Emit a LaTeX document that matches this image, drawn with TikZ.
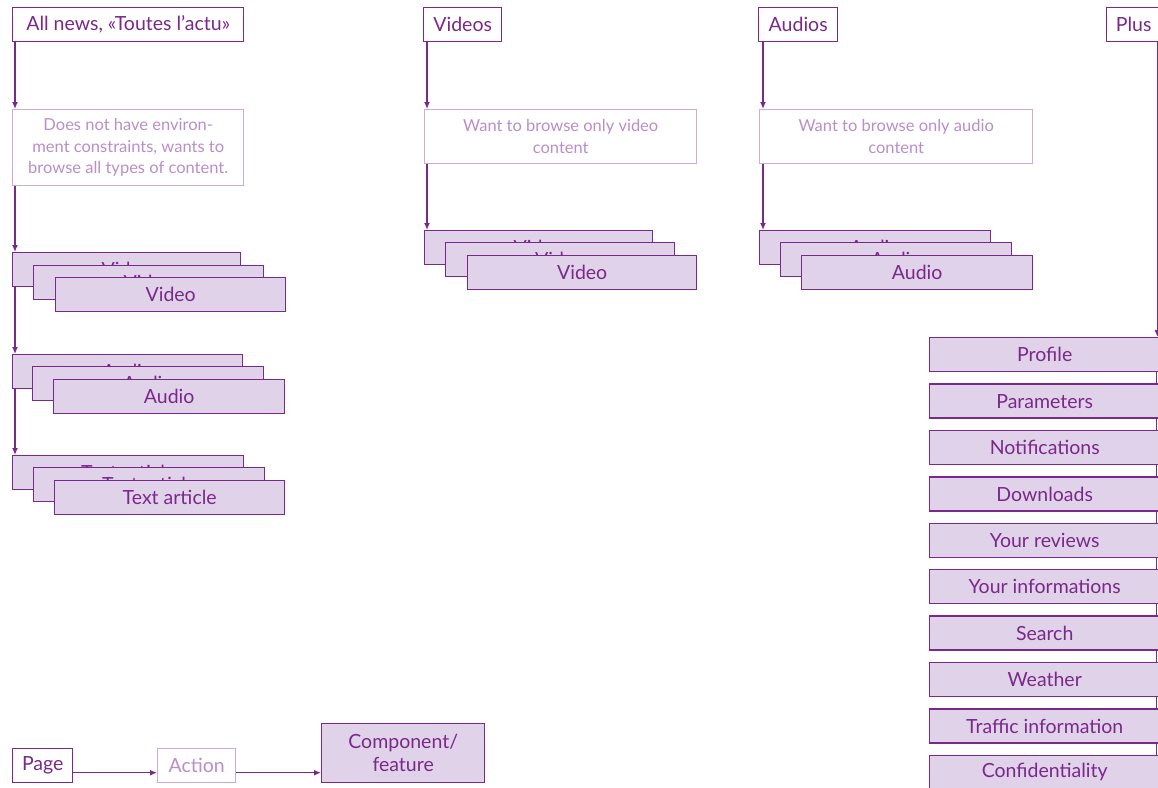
\documentclass[tikz,border=0pt]{standalone}
\usepackage{fontspec}
\setmainfont{Lato}
\usetikzlibrary{positioning}
\usetikzlibrary{arrows.meta}
\usetikzlibrary{calc}
\definecolor{figMorado}{RGB}{122,40,138}
\definecolor{figLavanda}{RGB}{224,210,232}
\definecolor{figLila}{RGB}{204,170,218}
\definecolor{figLilaTexto}{RGB}{186,142,200}
\tikzset{
  pagina/.style={
    rectangle, draw=figMorado, line width=1.4pt, fill=white,
    text=figMorado, minimum height=34, inner sep=0pt,
    font=\fontsize{19.5}{23}\selectfont, anchor=north west
  },
  accion/.style={
    rectangle, draw=figLila, line width=1.4pt, fill=white,
    text=figLilaTexto, minimum height=54, inner sep=0pt, align=center,
    font=\fontsize{16.5}{21.5}\selectfont, anchor=north west
  },
  funcion/.style={
    rectangle, draw=figMorado, line width=1.4pt, fill=figLavanda,
    text=figMorado, minimum height=34, minimum width=230, inner sep=0pt,
    align=center, font=\fontsize{19.5}{23}\selectfont, anchor=north west
  },
  flecha/.style={-{Latex[length=7pt,width=6pt]}, line width=1.4pt, draw=figMorado},
  linea/.style={line width=1.4pt, draw=figMorado}
}
\begin{document}
\begin{tikzpicture}[x=1pt, y=-1pt]
  \useasboundingbox (0,0) rectangle (1158,787);

  % Columna 1: all news
  \node[pagina, minimum width=231] (todo) at (12,7) {All news, «Toutes l’actu»};
  \node[accion, minimum width=231, minimum height=76] (tododesc) at (12,109)
        {Does not have environ-\\ment constraints, wants to\\browse all types of content.};
  \node[funcion, minimum width=228] (tvid1) at (12,252) {Video};
  \node[funcion] (tvid2) at (33,265) {Video};
  \node[funcion] (tvid3) at (55,277) {Video};
  \node[funcion] (taud1) at (12,354) {Audio};
  \node[funcion, minimum width=231] (taud2) at (32,366) {Audio};
  \node[funcion, minimum width=231] (taud3) at (53,379) {Audio};
  \node[funcion, minimum width=231] (ttxt1) at (12,455) {Text article};
  \node[funcion, minimum width=231] (ttxt2) at (33,467) {Text article};
  \node[funcion] (ttxt3) at (54,480) {Text article};

  \draw[flecha] ([xshift=3]todo.south west) -- ([xshift=3]todo.south west |- tododesc.north);
  \draw[flecha] ([xshift=3]tododesc.south west) -- ([xshift=3]tododesc.south west |- tvid1.north);
  \draw[flecha] ([xshift=3]tvid1.south west) -- ([xshift=3]tvid1.south west |- taud1.north);
  \draw[flecha] ([xshift=3]taud1.south west) -- ([xshift=3]taud1.south west |- ttxt1.north);

  % Columna 2: videos
  \node[pagina, minimum width=78] (videos) at (423,7) {Videos};
  \node[accion, minimum width=272] (videosdesc) at (424,109)
        {Want to browse only video\\content};
  \node[funcion, minimum width=228] (vvid1) at (424,230) {Video};
  \node[funcion, minimum width=229] (vvid2) at (445,242) {Video};
  \node[funcion, minimum width=229] (vvid3) at (467,255) {Video};

  \draw[flecha] ([xshift=4]videos.south west) -- ([xshift=4]videos.south west |- videosdesc.north);
  \draw[flecha] ([xshift=3]videosdesc.south west) -- ([xshift=3]videosdesc.south west |- vvid1.north);

  % Columna 3: audios
  \node[pagina, minimum width=79] (audios) at (758,7) {Audios};
  \node[accion, minimum width=273] (audiosdesc) at (759,109)
        {Want to browse only audio\\content};
  \node[funcion, minimum width=231] (aaud1) at (759,230) {Audio};
  \node[funcion, minimum width=231] (aaud2) at (780,242) {Audio};
  \node[funcion, minimum width=231] (aaud3) at (801,255) {Audio};

  \draw[flecha] ([xshift=5]audios.south west) -- ([xshift=5]audios.south west |- audiosdesc.north);
  \draw[flecha] ([xshift=4]audiosdesc.south west) -- ([xshift=4]audiosdesc.south west |- aaud1.north);

  % Columna 4: plus
  \node[pagina, minimum width=54] (plus) at (1106,7) {Plus};
  \foreach \nombre [count=\i from 0] in {Profile, Parameters, Notifications, Downloads,
      Your reviews, Your informations, Search, Weather, Traffic information, Confidentiality}
    \node[funcion] (mas\i) at (929,{337+46.4*\i}) {\nombre};

  \draw[flecha] ([xshift=-4]plus.south east) -- ([xshift=-4]plus.south east |- mas0.north);
  \foreach \i [evaluate=\i as \j using int(\i+1)] in {0,...,8}
    \draw[linea] ([xshift=-4]mas\i.south east) -- ([xshift=-4]mas\j.north east);

  % Leyenda
  \node[pagina, minimum width=60] (leypagina) at (12,748) {Page};
  \node[accion, minimum width=78, minimum height=34, font=\fontsize{19.5}{23}\selectfont] (leyaccion) at (157,748) {Action};
  \node[funcion, minimum width=163, minimum height=59] (leyfuncion) at (321,723) {Component/\\feature};

  \draw[flecha] ([yshift=-7]leypagina.east) -- ([yshift=-7]leypagina.east -| leyaccion.west);
  \draw[flecha] ([yshift=-7]leyaccion.east) -- ([yshift=-7]leyaccion.east -| leyfuncion.west);
\end{tikzpicture}
\end{document}
